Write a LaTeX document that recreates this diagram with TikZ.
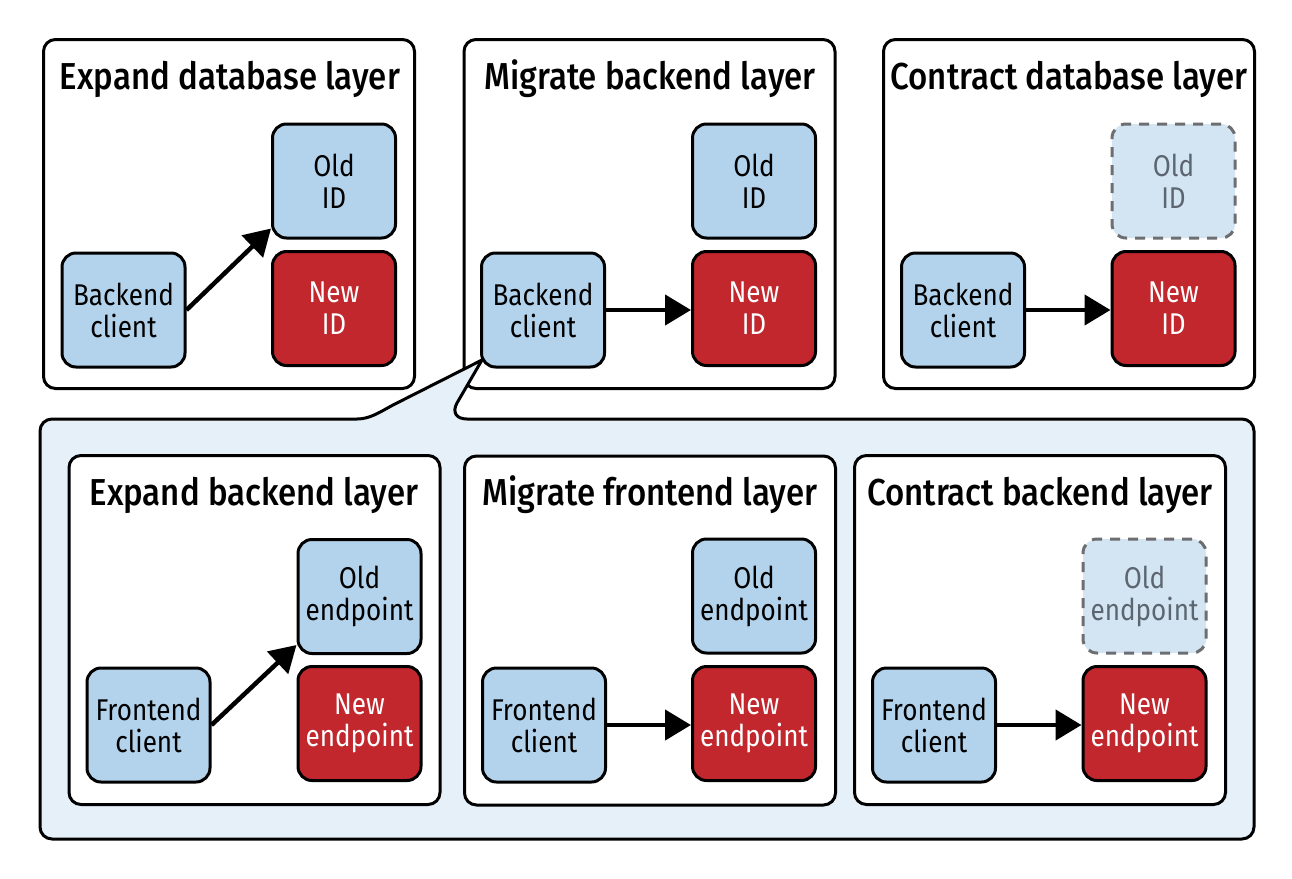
\documentclass[tikz,border=0pt]{standalone}
\usepackage{fontspec}
\setmainfont{Fira Sans}[FakeStretch=0.87]
\newfontfamily\titlefont{Fira Sans}[UprightFont={* Medium},FakeStretch=0.88]
\usetikzlibrary{arrows.meta}
\definecolor{boxblue}{HTML}{B3D3EC}
\definecolor{boxred}{HTML}{C1272D}
\definecolor{contblue}{HTML}{E5F0F9}
\definecolor{paleblue}{HTML}{D3E5F3}
\definecolor{dashgray}{HTML}{6D6E71}
\definecolor{gonetext}{HTML}{5C6670}
\tikzset{
  panel/.style={draw=black, line width=3pt, fill=white, rounded corners=12pt,
    minimum width=371pt, minimum height=349pt, inner sep=0pt},
  ptitle/.style={anchor=base, inner sep=0pt, font=\titlefont\fontsize{37.5}{40}\selectfont},
  box/.style={draw=black, line width=3pt, rounded corners=14pt,
    minimum width=123pt, minimum height=114pt, inner sep=0pt, align=center,
    font=\fontsize{30}{32}\selectfont},
  bluebox/.style={box, fill=boxblue},
  redbox/.style={box, fill=boxred, text=white},
  gonebox/.style={box, draw=dashgray, fill=paleblue, text=gonetext, dash pattern=on 10pt off 8pt},
  arr/.style={line width=4.5pt, -{Triangle[length=26pt,width=30pt]}},
  container/.style={draw=black, line width=3pt, fill=contblue, line join=round}
}
\begin{document}
\begin{tikzpicture}[x=1pt,y=-1pt]
\useasboundingbox (0,0) rectangle (1292,878);
% top panels
\node[panel] (p1) at (229,214) {};
\node[panel] (p2) at (649.5,214) {};
\node[panel] (p3) at (1069,214) {};
\node[ptitle] (t1) at (230,89) {Expand database layer};
\node[ptitle] (t2) at (650,89) {Migrate backend layer};
\node[ptitle] (t3) at (1069,89) {Contract database layer};
% container with callout
\draw[container] (345,419) .. controls (370,419) and (380,412) .. (393,405) -- (482,360)
  -- (457,403) .. controls (452,412) and (456,419) .. (467,419)
  [rounded corners=12pt] -- (1254,419) -- (1254,839) -- (40,839) -- (40,419) -- cycle;
% top boxes
\node[bluebox] (b1) at (123.5,310) {Backend\\client};
\node[bluebox] (o1) at (334,181) {Old\\ID};
\node[redbox]  (n1) at (334,308.5) {New\\ID};
\node[bluebox] (b2) at (543,310) {Backend\\client};
\node[bluebox] (o2) at (754,181) {Old\\ID};
\node[redbox]  (n2) at (754,308.5) {New\\ID};
\node[bluebox] (b3) at (963,310) {Backend\\client};
\node[gonebox] (o3) at (1173.5,181) {Old\\ID};
\node[redbox]  (n3) at (1173.5,308.5) {New\\ID};
\draw[arr] (b1.east) -- ([yshift=11pt]o1.south west);
\draw[arr] (b2.east) -- (b2.east -| n2.west);
\draw[arr] (b3.east) -- (b3.east -| n3.west);
% bottom panels
\node[panel] (p4) at (254.5,630) {};
\node[panel] (p5) at (650,630.5) {};
\node[panel] (p6) at (1040,630) {};
\node[ptitle] (t4) at (254,505) {Expand backend layer};
\node[ptitle] (t5) at (650,505) {Migrate frontend layer};
\node[ptitle] (t6) at (1040,505) {Contract backend layer};
\node[bluebox] (b4) at (148.5,725) {Frontend\\client};
\node[bluebox] (o4) at (359.5,596.5) {Old\\endpoint};
\node[redbox]  (n4) at (359.5,723.5) {New\\endpoint};
\node[bluebox] (b5) at (544,725) {Frontend\\client};
\node[bluebox] (o5) at (754,596) {Old\\endpoint};
\node[redbox]  (n5) at (754,723.5) {New\\endpoint};
\node[bluebox] (b6) at (934,725) {Frontend\\client};
\node[gonebox] (o6) at (1144.5,596) {Old\\endpoint};
\node[redbox]  (n6) at (1144.5,723.5) {New\\endpoint};
\draw[arr] (b4.east) -- ([yshift=10pt]o4.south west);
\draw[arr] (b5.east) -- (b5.east -| n5.west);
\draw[arr] (b6.east) -- (b6.east -| n6.west);
\end{tikzpicture}
\end{document}
